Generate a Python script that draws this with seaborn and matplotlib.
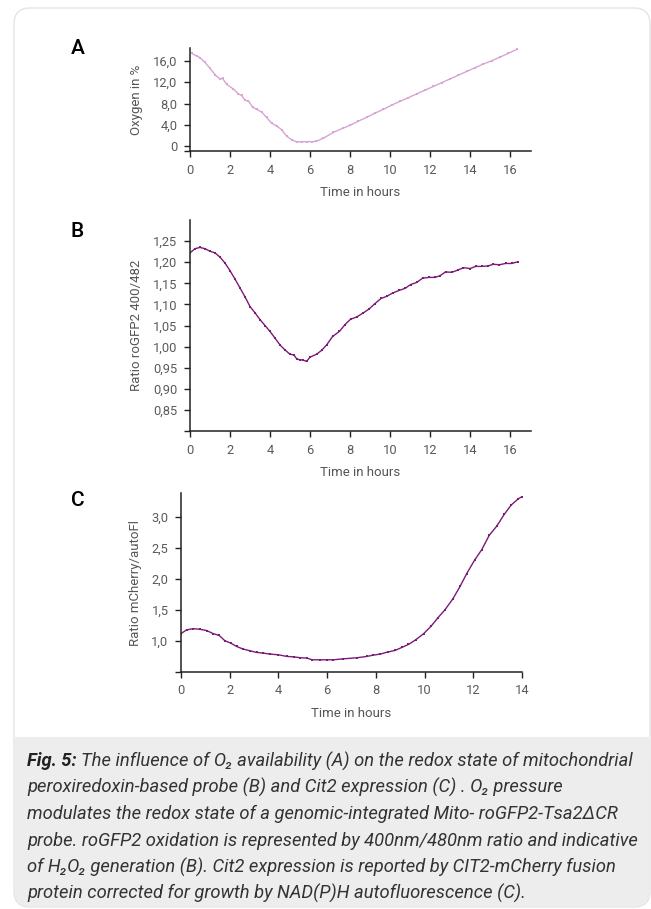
import matplotlib
matplotlib.use("Agg")
import matplotlib.pyplot as plt
from matplotlib.patches import FancyBboxPatch, Rectangle
import seaborn as sns

# panel A - oxygen
time_a = [0.08, 0.33, 0.5, 0.75, 1.0, 1.25, 1.5, 1.63, 1.83, 2.17, 2.42, 2.58,
          2.75, 2.92, 3.13, 3.33, 3.58, 3.83, 4.08, 4.33, 4.58, 4.83, 5.08, 5.33,
          5.6, 5.85, 6.1, 6.3, 6.67, 7.17, 7.67, 8.0, 8.42, 8.83, 9.25, 9.67,
          10.08, 10.5, 10.92, 11.33, 11.75, 12.17, 12.58, 13.0, 13.42, 13.83,
          14.25, 14.67, 15.08, 15.5, 15.92, 16.37]
oxygen = [17.4, 16.9, 16.6, 15.7, 14.6, 13.4, 12.6, 12.7, 11.6, 10.7, 9.8, 9.5,
          8.6, 8.5, 7.3, 6.9, 6.4, 5.4, 4.3, 3.8, 3.1, 1.9, 1.2, 0.8,
          0.85, 0.85, 0.85, 0.9, 1.5, 2.6, 3.4, 3.9, 4.7, 5.4, 6.2, 6.9,
          7.7, 8.4, 9.1, 9.8, 10.5, 11.2, 11.9, 12.6, 13.3, 14.0,
          14.7, 15.4, 16.0, 16.7, 17.4, 18.2]

# panel B - roGFP2 ratio
time_b = [0.0, 0.25, 0.5, 0.75, 1.0, 1.25, 1.5, 1.75, 2.0, 2.25, 2.5, 2.75, 3.0,
          3.25, 3.5, 3.75, 4.0, 4.25, 4.5, 4.75, 5.0, 5.2, 5.35, 5.5, 5.65, 5.83,
          6.0, 6.33, 6.58, 6.83, 7.13, 7.47, 7.75, 8.03, 8.33, 8.67, 8.95, 9.25,
          9.55, 9.83, 10.13, 10.45, 10.75, 11.03, 11.33, 11.63, 11.95, 12.25,
          12.5, 12.78, 13.08, 13.38, 13.67, 14.0, 14.28, 14.58, 14.88, 15.17,
          15.47, 15.78, 16.08, 16.4]
ratio_b = [1.222, 1.232, 1.235, 1.232, 1.226, 1.222, 1.212, 1.198, 1.180, 1.160,
           1.139, 1.118, 1.095, 1.080, 1.064, 1.050, 1.036, 1.020, 1.004, 0.992,
           0.982, 0.980, 0.970, 0.969, 0.968, 0.965, 0.975, 0.982, 0.991, 1.004,
           1.024, 1.036, 1.052, 1.065, 1.070, 1.080, 1.089, 1.102, 1.114, 1.119,
           1.127, 1.133, 1.138, 1.147, 1.152, 1.162, 1.164, 1.164, 1.168, 1.177,
           1.176, 1.181, 1.187, 1.185, 1.190, 1.190, 1.191, 1.195, 1.194, 1.197,
           1.197, 1.201]

# panel C - mCherry / autoFl
time_c = [0.0, 0.23, 0.5, 0.77, 1.05, 1.32, 1.57, 1.8, 2.04, 2.28, 2.55, 2.83,
          3.1, 3.38, 3.65, 4.0, 4.35, 4.62, 4.9, 5.17, 5.38, 5.72, 6.0, 6.26,
          6.67, 7.22, 7.63, 7.9, 8.18, 8.48, 8.79, 9.07, 9.34, 9.64, 9.96,
          10.26, 10.54, 10.84, 11.16, 11.46, 11.73, 12.05, 12.35, 12.65, 12.96,
          13.27, 13.55, 13.85, 14.0]
ratio_c = [1.12, 1.18, 1.20, 1.19, 1.17, 1.12, 1.09, 1.005, 0.967, 0.913, 0.870,
           0.843, 0.816, 0.805, 0.789, 0.778, 0.751, 0.745, 0.730, 0.725, 0.697,
           0.697, 0.697, 0.697, 0.713, 0.730, 0.751, 0.773, 0.789, 0.822, 0.848,
           0.897, 0.945, 1.021, 1.118, 1.236, 1.372, 1.506, 1.680, 1.884, 2.089,
           2.304, 2.477, 2.704, 2.854, 3.044, 3.194, 3.297, 3.33]

yticks_a = [0, 4, 8, 12, 16]
ylabels_a = ["0", "4,0", "8,0", "12,0", "16,0"]
yticks_b = [0.85, 0.90, 0.95, 1.00, 1.05, 1.10, 1.15, 1.20, 1.25]
ylabels_b = ["0,85", "0,90", "0,95", "1,00", "1,05", "1,10", "1,15", "1,20", "1,25"]
yticks_c = [1.0, 1.5, 2.0, 2.5, 3.0]
ylabels_c = ["1,0", "1,5", "2,0", "2,5", "3,0"]
xticks_ab = [0, 2, 4, 6, 8, 10, 12, 14, 16]
xticks_c = [0, 2, 4, 6, 8, 10, 12, 14]

caption_lines = [
    "The influence of O\u2082 availability (A) on the redox state of mitochondrial",
    "peroxiredoxin-based probe (B) and Cit2 expression (C) . O\u2082 pressure",
    "modulates the redox state of a genomic-integrated Mito- roGFP2-Tsa2\u0394CR",
    "probe. roGFP2 oxidation is represented by 400nm/480nm ratio and indicative",
    "of H\u2082O\u2082 generation (B). Cit2 expression is reported by CIT2-mCherry fusion",
    "protein corrected for growth by NAD(P)H autofluorescence (C).",
]

sns.set_style("ticks")
plt.rcParams['font.family'] = ['Roboto', 'DejaVu Sans']

W, H = 651, 909
fig = plt.figure(figsize=(W / 100, H / 100), dpi=100)

# card background
bg = fig.add_axes([0, 0, 1, 1])
bg.set_xlim(0, W)
bg.set_ylim(H, 0)
bg.axis('off')
bg.add_patch(FancyBboxPatch((14, 8), 636, 899, boxstyle="round,pad=0,rounding_size=16",
                            fc='white', ec='#e4e4e4', lw=1))
bg.add_patch(FancyBboxPatch((14.5, 737), 635, 169.5, boxstyle="round,pad=0,rounding_size=16",
                            fc='#ededed', ec='none'))
bg.add_patch(Rectangle((14.5, 737), 635, 30, fc='#ededed', ec='none'))


def px_axes(left, top, right, bottom):
    return fig.add_axes([left / W, 1 - bottom / H, (right - left) / W, (bottom - top) / H])


def style(ax, xticks, yticks, ylabels, ylabel):
    y0 = ax.get_ylim()[0]
    ax.set_xticks(xticks)
    ax.set_xticklabels([str(t) for t in xticks])
    ax.set_yticks([y0] + yticks)
    ax.set_yticklabels([""] + ylabels)
    ax.set_xlabel("Time in hours", fontsize=9.5, color='#555555', labelpad=7)
    ax.set_ylabel(ylabel, fontsize=9.5, color='#555555', labelpad=7)
    ax.tick_params(axis='both', direction='out', length=4, width=1, color='#222222',
                   labelsize=9.3, labelcolor='#5a5a5a', pad=5)
    for s in ['left', 'bottom']:
        ax.spines[s].set_color('#222222')
        ax.spines[s].set_linewidth(1.1)
    sns.despine(ax=ax)
    ax.set_facecolor('none')


light = '#d8a4d4'
dark = '#7a1c78'

ax_a = px_axes(190, 48, 531, 151)
sns.lineplot(x=time_a, y=oxygen, ax=ax_a, color=light, lw=1, marker='s',
             markersize=1.8, markeredgewidth=0)
ax_a.set_xlim(0, 17.05)
ax_a.set_ylim(-0.9, 18.4)
style(ax_a, xticks_ab, yticks_a, ylabels_a, "Oxygen in %")

ax_b = px_axes(190, 220, 531, 431)
sns.lineplot(x=time_b, y=ratio_b, ax=ax_b, color=dark, lw=1, marker='s',
             markersize=2, markeredgewidth=0)
ax_b.set_xlim(0, 17.05)
ax_b.set_ylim(0.80, 1.30)
style(ax_b, xticks_ab, yticks_b, ylabels_b, "Ratio roGFP2 400/482")

ax_c = px_axes(181, 493, 522, 672)
sns.lineplot(x=time_c, y=ratio_c, ax=ax_c, color=dark, lw=1, marker='s',
             markersize=2, markeredgewidth=0)
ax_c.set_xlim(0, 14)
ax_c.set_ylim(0.5, 3.39)
style(ax_c, xticks_c, yticks_c, ylabels_c, "Ratio mCherry/autoFl")

for letter, yc in [("A", 49), ("B", 231), ("C", 500)]:
    fig.text(71 / W, 1 - yc / H, letter, fontsize=15, fontweight='medium', color='black',
             va='center', ha='left')

# caption
cap_size = 13.2
y_first = 761
fig_lbl = fig.text(27 / W, 1 - y_first / H, "Fig. 5:", fontsize=cap_size, fontweight='bold',
                   fontstyle='italic', color='#222222', va='center', ha='left')
fig.canvas.draw()
bb = fig_lbl.get_window_extent()
for i, line in enumerate(caption_lines):
    x0 = (bb.x1 + 4) if i == 0 else 27
    fig.text(x0 / W, 1 - (y_first + i * 26.5) / H, line, fontsize=cap_size,
             fontstyle='italic', color='#333333', va='center', ha='left')

fig.savefig("out.png", dpi=100)
